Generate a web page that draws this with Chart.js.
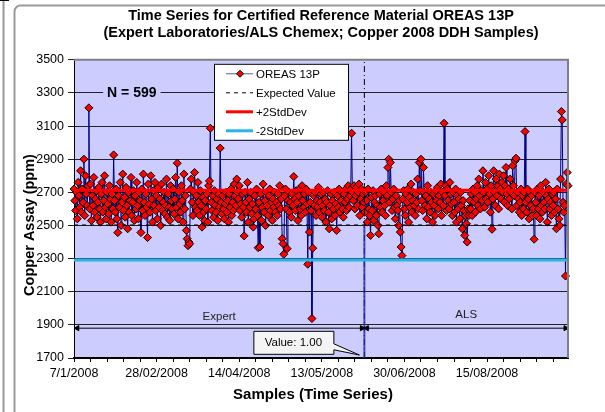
<!DOCTYPE html>
<html>
<head>
<meta charset="utf-8">
<script src="https://cdn.jsdelivr.net/npm/chart.js@4.4.1/dist/chart.umd.min.js"></script>
<style>
  html, body { margin: 0; padding: 0; background: #fff; }
</style>
</head>
<body>
<canvas id="myChart" width="605" height="412"></canvas>
<script>
// assay results, one per sample, in time order (Expert lab first, then ALS)
var copper = [
  2720, 2650, 2590, 2700, 2540, 2760, 2680, 2610, 2830, 2580, 2720, 2640, 2900, 2560, 2800, 2690, 2620, 2740, 3210, 2600,
  2750, 2530, 2680, 2620, 2790, 2580, 2660, 2710, 2550, 2640, 2730, 2600, 2520, 2690, 2760, 2580, 2650, 2800, 2610, 2540,
  2700, 2630, 2570, 2740, 2660, 2520, 2690, 2600, 2926, 2650, 2580, 2720, 2540, 2457, 2680, 2610, 2760, 2500, 2640, 2810,
  2590, 2670, 2550, 2730, 2620, 2480, 2700, 2580, 2650, 2790, 2560, 2640, 2710, 2530, 2680, 2600, 2760, 2620, 2540, 2700,
  2650, 2457, 2720, 2590, 2810, 2640, 2560, 2690, 2610, 2427, 2750, 2630, 2580, 2800, 2660, 2520, 2710, 2620, 2760, 2590,
  2680, 2540, 2730, 2610, 2660, 2500, 2750, 2590, 2640, 2700, 2570, 2620, 2780, 2550, 2690, 2610, 2530, 2740, 2650, 2600,
  2720, 2570, 2660, 2790, 2610, 2876, 2540, 2700, 2630, 2580, 2740, 2650, 2520, 2810, 2600, 2680, 2470, 2420, 2378, 2400,
  2390, 2720, 2780, 2640, 2560, 2700, 2820, 2610, 2680, 2590, 2760, 2640, 2560, 2710, 2620, 2490, 2670, 2580, 2530, 2650,
  2600, 2690, 2520, 2740, 2769, 3087, 2640, 2590, 2680, 2550, 2710, 2620, 2580, 2660, 2530, 2690, 2610, 2967, 2640, 2570,
  2680, 2600, 2540, 2630, 2700, 2580, 2650, 2520, 2690, 2610, 2720, 2560, 2640, 2590, 2750, 2680, 2620, 2780, 2700, 2660,
  2740, 2590, 2630, 2550, 2690, 2610, 2437, 2700, 2640, 2580, 2760, 2520, 2660, 2610, 2700, 2570, 2630, 2490, 2540, 2680,
  2600, 2720, 2560, 2366, 2640, 2370, 2690, 2530, 2610, 2750, 2580, 2650, 2500, 2700, 2620, 2560, 2680, 2720, 2590, 2640,
  2530, 2660, 2610, 2700, 2580, 2640, 2560, 2690, 2620, 2740, 2600, 2660, 2420, 2390, 2326, 2680, 2720, 2600, 2360, 2650,
  2700, 2580, 2640, 2550, 2690, 2620, 2795, 2660, 2590, 2710, 2640, 2530, 2680, 2720, 2600, 2560, 2740, 2650, 2610, 2690,
  2580, 2720, 2630, 2266, 2700, 2460, 2640, 2590, 1938, 2363, 2680, 2620, 2700, 2560, 2650, 2610, 2730, 2580, 2640, 2690,
  2550, 2620, 2700, 2590, 2660, 2520, 2640, 2710, 2580, 2480, 2620, 2690, 2540, 2650, 2600, 2700, 2560, 2630, 2470, 2680,
  2610, 2720, 2580, 2650, 2700, 2600, 2550, 2690, 2640, 2720, 2590, 2660, 2740, 2610, 2680, 2720, 3057, 2700, 2650, 2740,
  2600, 2680, 2730, 2620, 2700, 2750, 2560, 2660, 2720, 2610, 2690, 2640, 2580, 2700, 2650, 2520, 2720, 2600, 2560, 2440,
  2670, 2590, 2710, 2530, 2640, 2680, 2560, 2620, 2500, 2450, 2690, 2610, 2720, 2580, 2650, 2700, 2620, 2560, 2740, 2680,
  2850, 2900, 2640, 2880, 2700, 2590, 2660, 2720, 2610, 2540, 2680, 2620, 2590, 2500, 2650, 2460, 2370, 2318, 2660, 2710,
  2600, 2560, 2690, 2640, 2720, 2520, 2670, 2610, 2750, 2580, 2650, 2700, 2620, 2560, 2690, 2640, 2780, 2600, 2880, 2710,
  2900, 2650, 2590, 2850, 2700, 2620, 2680, 2540, 2740, 2610, 2660, 2580, 2700, 2640, 2520, 2690, 2620, 2560, 2710, 2650,
  2730, 2600, 2680, 2640, 2750, 2560, 2700, 2620, 3117, 2680, 2740, 2590, 2720, 2650, 2600, 2760, 2690, 2630, 2560, 2700,
  2640, 2580, 2720, 2520, 2680, 2600, 2660, 2540, 2700, 2620, 2480, 2650, 2590, 2440, 2560, 2510, 2400, 2600, 2560, 2650,
  2600, 2690, 2560, 2720, 2640, 2700, 2580, 2660, 2740, 2620, 2780, 2680, 2600, 2710, 2650, 2830, 2700, 2610, 2760, 2660,
  2720, 2640, 2800, 2690, 2580, 2740, 2477, 2660, 2830, 2700, 2620, 2780, 2680, 2740, 2600, 2810, 2720, 2660, 2760, 2700,
  2800, 2640, 2740, 2850, 2690, 2620, 2720, 2660, 2780, 2700, 2600, 2860, 2740, 2680, 2890, 2906, 2620, 2700, 2660, 2580,
  2640, 2720, 2560, 2680, 2600, 2700, 3067, 2640, 2580, 2720, 2660, 2540, 2700, 2620, 2680, 2560, 2600, 2417, 2700, 2640,
  2560, 2720, 2600, 2680, 2540, 2740, 2620, 2580, 2700, 2640, 2600, 2760, 2680, 2520, 2660, 2720, 2600, 2640, 2560, 2690,
  2620, 2700, 2580, 2660, 2480, 2720, 2600, 2540, 2500, 2780, 3188, 3137, 2640, 2580, 2620, 2195, 2750, 2820, 2740
];
var dateTicks = ["7/1/2008", "28/02/2008", "14/04/2008", "13/05/2008", "30/06/2008", "15/08/2008"];
var labelEvery = 100;
var expectedValue = 2503;
var plus2sd = 2712;
var minus2sd = 2292;
var splitAt = 351.5;     // between last Expert and first ALS sample
var arrowLevel = 1880;
var lastIdx = copper.length - 1;

var FONT = 'Arial, "Liberation Sans", sans-serif';
var PLOT_BG = '#CCCCFF';

function flat(v) {
  return [{ x: 0, y: v }, { x: lastIdx, y: v }];
}

// white page, the two grey frame lines and the lavender plot
const backdrop = {
  id: 'backdrop',
  beforeDraw(chart) {
    const ctx = chart.ctx, a = chart.chartArea;
    ctx.save();
    ctx.fillStyle = '#fff';
    ctx.fillRect(0, 0, chart.width, chart.height);
    ctx.strokeStyle = '#9a9a9a';
    ctx.lineWidth = 2;
    ctx.beginPath();
    ctx.moveTo(3.5, 0);
    ctx.lineTo(3.5, chart.height);
    ctx.stroke();
    ctx.beginPath();
    ctx.roundRect(14.5, 5.5, 700, 500, 6);
    ctx.stroke();
    ctx.strokeStyle = '#000';
    ctx.lineWidth = 1;
    ctx.beginPath();
    ctx.moveTo(0, 0.5);
    ctx.lineTo(9, 0.5);
    ctx.stroke();
    ctx.fillStyle = PLOT_BG;
    ctx.fillRect(a.left, a.top, a.right - a.left, a.bottom - a.top);
    ctx.restore();
  }
};

const overlay = {
  id: 'overlay',
  afterDraw(chart) {
    const ctx = chart.ctx, a = chart.chartArea;
    const xs = chart.scales.x, ys = chart.scales.y;
    ctx.save();

    // plot frame (grey top/right)
    ctx.strokeStyle = '#808080';
    ctx.lineWidth = 2;
    ctx.beginPath();
    ctx.moveTo(a.left, a.top);
    ctx.lineTo(a.right, a.top);
    ctx.lineTo(a.right, a.bottom);
    ctx.stroke();

    // N = 599
    ctx.font = 'bold 14px ' + FONT;
    ctx.textAlign = 'center';
    ctx.textBaseline = 'middle';
    const nx = xs.getPixelForValue(70), ny = ys.getPixelForValue(3300);
    const nText = 'N = ' + copper.length;
    const nw = ctx.measureText(nText).width;
    ctx.fillStyle = PLOT_BG;
    ctx.fillRect(nx - nw / 2 - 4, ny - 6, nw + 8, 12);
    ctx.fillStyle = '#000';
    ctx.fillText(nText, nx, ny);

    // Expert / ALS captions above the arrows
    ctx.font = '11.5px ' + FONT;
    ctx.fillStyle = '#222';
    const ay = ys.getPixelForValue(arrowLevel);
    ctx.fillText('Expert', xs.getPixelForValue(splitAt / 2), ay - 11);
    ctx.fillText('ALS', xs.getPixelForValue((splitAt + lastIdx) / 2), ay - 13);

    // callout "Value: 1.00"
    const tipX = xs.getPixelForValue(splitAt) - 5, tipY = a.bottom - 3;
    const bl = tipX - 106, br = tipX - 26, bt = a.top + 271, bb = a.top + 294;
    ctx.fillStyle = '#f4f4f4';
    ctx.strokeStyle = '#000';
    ctx.lineWidth = 1;
    ctx.beginPath();
    ctx.moveTo(bl + 0.5, bt + 0.5);
    ctx.lineTo(br + 0.5, bt + 0.5);
    ctx.lineTo(br + 0.5, bt + 13);
    ctx.lineTo(tipX, tipY);
    ctx.lineTo(br + 0.5, bt + 19);
    ctx.lineTo(br + 0.5, bb + 0.5);
    ctx.lineTo(bl + 0.5, bb + 0.5);
    ctx.closePath();
    ctx.fill();
    ctx.stroke();
    ctx.fillStyle = '#000';
    ctx.fillText('Value: 1.00', (bl + br) / 2, (bt + bb) / 2 + 1);

    // legend
    const lx = a.left + 140, ly = a.top + 4, lw = 134, lh = 76;
    ctx.fillStyle = '#fff';
    ctx.fillRect(lx, ly, lw, lh);
    ctx.strokeStyle = '#000';
    ctx.strokeRect(lx + 0.5, ly + 0.5, lw, lh);
    const items = chart.data.datasets.filter(d => d.inLegend);
    items.forEach((d, i) => {
      const ry = ly + 10 + i * 19;
      ctx.save();
      ctx.strokeStyle = d.legendLine || d.borderColor;
      ctx.lineWidth = d.borderWidth;
      ctx.setLineDash(d.borderDash || []);
      ctx.beginPath();
      ctx.moveTo(lx + 12, ry);
      ctx.lineTo(lx + 39, ry);
      ctx.stroke();
      ctx.restore();
      if (d.pointRadius > 0) {
        ctx.fillStyle = d.pointBackgroundColor;
        ctx.strokeStyle = d.pointBorderColor;
        ctx.lineWidth = 1;
        ctx.beginPath();
        const cx = lx + 26, r = 3.5;
        ctx.moveTo(cx, ry - r);
        ctx.lineTo(cx + r, ry);
        ctx.lineTo(cx, ry + r);
        ctx.lineTo(cx - r, ry);
        ctx.closePath();
        ctx.fill();
        ctx.stroke();
      }
      ctx.fillStyle = '#000';
      ctx.font = '11.5px ' + FONT;
      ctx.textAlign = 'left';
      ctx.fillText(d.label, lx + 42, ry + 1);
    });

    // axis titles
    ctx.fillStyle = '#000';
    ctx.textAlign = 'center';
    ctx.font = 'bold 15px ' + FONT;
    ctx.fillText('Samples (Time Series)', (a.left + a.right) / 2 - 8, 395);
    ctx.save();
    ctx.translate(30, 225);
    ctx.rotate(-Math.PI / 2);
    ctx.font = 'bold 14.5px ' + FONT;
    ctx.fillText('Copper Assay (ppm)', 0, 0);
    ctx.restore();

    ctx.restore();
  }
};

const config = {
  type: 'line',
  data: {
    datasets: [
      {
        label: 'OREAS 13P',
        inLegend: true,
        legendLine: '#5a5aa8',
        data: copper.map((v, i) => ({ x: i, y: v })),
        borderColor: '#000080',
        borderWidth: 1,
        pointStyle: 'rectRot',
        pointRadius: 4,
        pointBackgroundColor: '#FF0000',
        pointBorderColor: '#000000',
        pointBorderWidth: 1,
        order: 3,
        clip: 6
      },
      {
        label: 'Expected Value',
        inLegend: true,
        data: flat(expectedValue),
        borderColor: '#000',
        borderWidth: 1,
        borderDash: [4, 4],
        pointRadius: 0,
        order: 1
      },
      {
        label: '+2StdDev',
        inLegend: true,
        data: flat(plus2sd),
        borderColor: '#FF0000',
        borderWidth: 3,
        pointRadius: 0,
        order: 1
      },
      {
        label: '-2StdDev',
        inLegend: true,
        data: flat(minus2sd),
        borderColor: '#26B4EA',
        borderWidth: 3,
        pointRadius: 0,
        order: 1
      },
      {
        label: 'split bar',
        data: [{ x: splitAt, y: 1700 }, { x: splitAt, y: 2500 }],
        borderColor: 'rgba(40,40,170,0.8)',
        borderWidth: 2,
        pointRadius: 0,
        order: 2
      },
      {
        label: 'split',
        data: [{ x: splitAt, y: 1700 }, { x: splitAt, y: 3500 }],
        borderColor: '#000',
        borderWidth: 1,
        borderDash: [6, 3, 1, 3],
        pointRadius: 0,
        order: 2
      },
      {
        label: 'Expert span',
        data: [{ x: 4, y: arrowLevel }, { x: splitAt - 3, y: arrowLevel }],
        borderColor: '#000',
        borderWidth: 1,
        pointStyle: 'triangle',
        pointRotation: [270, 90],
        pointRadius: 3,
        pointBackgroundColor: '#000',
        pointBorderColor: '#000',
        order: 1
      },
      {
        label: 'ALS span',
        data: [{ x: splitAt + 3, y: arrowLevel }, { x: lastIdx - 3, y: arrowLevel }],
        borderColor: '#000',
        borderWidth: 1,
        pointStyle: 'triangle',
        pointRotation: [270, 90],
        pointRadius: 3,
        pointBackgroundColor: '#000',
        pointBorderColor: '#000',
        order: 1
      }
    ]
  },
  options: {
    responsive: false,
    animation: false,
    devicePixelRatio: 1,
    layout: { padding: { left: 14, right: 37, top: 0, bottom: 0 } },
    plugins: {
      legend: { display: false },
      tooltip: { enabled: false },
      title: {
        display: true,
        fullSize: false,
        text: ['Time Series for Certified Reference Material OREAS 13P',
               '(Expert Laboratories/ALS Chemex; Copper 2008 DDH Samples)'],
        color: '#000',
        font: { family: FONT, size: 14.5, weight: 'bold', lineHeight: 1.2 },
        padding: { top: 7, bottom: 18 }
      }
    },
    scales: {
      x: {
        type: 'linear',
        min: 0,
        max: lastIdx,
        afterBuildTicks(scale) {
          const t = [];
          for (let v = 0; v <= lastIdx; v += 20) t.push({ value: v });
          scale.ticks = t;
        },
        afterFit(scale) { scale.height = 54; },
        ticks: {
          autoSkip: false,
          maxRotation: 0,
          color: '#000',
          padding: 4,
          font: { family: FONT, size: 12.5 },
          callback: function (v) {
            return v % labelEvery === 0 ? dateTicks[v / labelEvery] : '';
          }
        },
        grid: { drawOnChartArea: false, color: '#000', tickLength: 4 },
        border: { color: '#000', width: 2 }
      },
      y: {
        min: 1700,
        max: 3500,
        afterFit(scale) { scale.width = 60; },
        ticks: {
          stepSize: 200,
          color: '#000',
          padding: 4,
          font: { family: FONT, size: 12.5 },
          callback: function (v) { return String(v); }
        },
        grid: { color: '#222', lineWidth: 1, tickLength: 6 },
        border: { color: '#000', width: 1 }
      }
    }
  },
  plugins: [backdrop, overlay]
};

const myChart = new Chart(document.getElementById('myChart'), config);
</script>
</body>
</html>
